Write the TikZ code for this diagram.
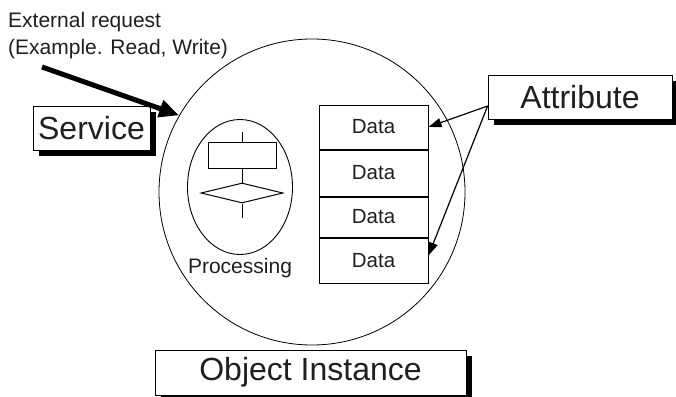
\documentclass[tikz,border=0pt]{standalone}
\usepackage{fontspec}
\setmainfont{Liberation Sans}
\usetikzlibrary{shapes.geometric, arrows.meta, positioning, calc, shadows}

\begin{document}
\begin{tikzpicture}[
  x=1pt, y=-1pt,
  every node/.style={text=black!88},
  objcirc/.style={circle, draw=black, line width=0.8pt, minimum size=306pt, inner sep=0pt},
  shbox/.style={draw=black, fill=white, line width=0.8pt, inner sep=0pt,
                font=\fontsize{32}{36}\selectfont,
                drop shadow={shadow xshift=6pt, shadow yshift=-6pt, fill=black, opacity=1}},
  databox/.style={draw=black, line width=1pt, minimum width=109pt, inner sep=0pt,
                  font=\fontsize{20.5}{24}\selectfont},
  procell/.style={ellipse, draw=black, line width=0.9pt, minimum width=105pt,
                  minimum height=135pt, inner sep=0pt},
  fcline/.style={draw=black, line width=1pt},
  attrar/.style={draw=black, line width=1.2pt, -{Triangle[length=13pt,width=9pt]}},
  reqar/.style={draw=black, line width=5pt, -{Triangle[length=20pt,width=17pt]}},
  lab/.style={font=\fontsize{21}{26}\selectfont, inner sep=0pt}
]
\clip (0,0) rectangle (676,396);

%--------------------------------------------------------------
% Oggetto e richiesta esterna
%--------------------------------------------------------------
\node[objcirc] (obj) at (312,192) {};

\node[lab, anchor=base west] (req) at (8,28) {External request};
\node[lab, anchor=base west] (reqex) at (8,55) {(Example. Read, Write)};
\coordinate (reqtail) at (42,67);

\node[shbox, minimum width=117pt, minimum height=44pt] (serv) at (91.5,128) {Service};
\node[shbox, minimum width=184pt, minimum height=44pt] (attr) at (580,97) {Attribute};
\node[shbox, minimum width=311pt, minimum height=45pt] (inst) at (310.5,372.5) {Object Instance};

%--------------------------------------------------------------
% Processing
%--------------------------------------------------------------
\node[procell] (proc) at (240,187) {};
\node[fcline, draw, minimum width=68pt, minimum height=26pt, inner sep=0pt] (step) at (242,155) {};
\node[diamond, fcline, draw, minimum width=82pt, minimum height=20pt, inner sep=0pt] (cond) at (242,193) {};
\coordinate (fctop) at (242,132);
\coordinate (fcbot) at (242,218);
\node[lab, below=3pt of proc] (proclab) {Processing};

%--------------------------------------------------------------
% Data
%--------------------------------------------------------------
\node[databox, minimum height=44pt] (d1) at (373.5,127) {Data};
\node[databox, minimum height=46pt, below=0pt of d1] (d2) {Data};
\node[databox, minimum height=40pt, below=0pt of d2] (d3) {Data};
\node[databox, minimum height=45pt, below=0pt of d3] (d4) {Data};

%--------------------------------------------------------------
% Collegamenti
%--------------------------------------------------------------
\draw[fcline] (fctop) -- (step.north);
\draw[fcline] (step.south) -- (cond.north);
\draw[fcline] (cond.south) -- (fcbot);

\draw[reqar] (reqtail) -- (obj.150);

\coordinate (attrsrc) at ($(attr.west)+(0,9)$);
\draw[attrar] (attrsrc) -- (d1.east);
\draw[attrar] (attrsrc) -- ($(d4.east)+(0,-5)$);

\end{tikzpicture}
\end{document}
